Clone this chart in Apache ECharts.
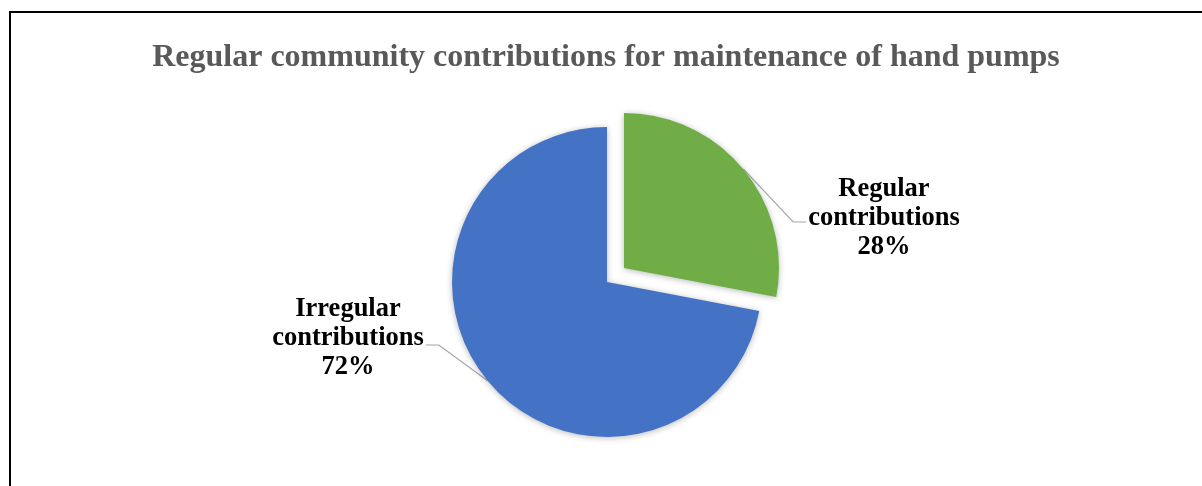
<!DOCTYPE html>
<html>
<head>
<meta charset="utf-8">
<script src="https://cdn.jsdelivr.net/npm/echarts@6/dist/echarts.min.js"></script>
<style>
  html, body { margin: 0; padding: 0; background: #ffffff; }
  #chart { width: 1202px; height: 486px; }
</style>
</head>
<body>
<div id="chart"></div>
<script>
// Share of communities by contribution pattern (%)
const categories = ['Regular\ncontributions', 'Irregular\ncontributions'];
const shares = [28, 72];
const sliceColors = ['#70AD47', '#4472C4'];
const titleText = 'Regular community contributions for maintenance of hand pumps';

// The "Regular" slice is pulled out of the pie
const explodedIndex = 0;

// Centre of each label block and the height of its leader line's horizontal run
const labelSpots = [
  { x: 884, y: 218, lineY: 222, side: 'right' },
  { x: 348, y: 338, lineY: 345, side: 'left' }
];

const pieCenter = [607, 282];
const pieRadius = 155;
const explodeShift = [17, -14];

const serifFont = '"Liberation Serif", "Times New Roman", serif';

function sliceData(visibleWhen) {
  return categories.map((name, i) => {
    const visible = visibleWhen(i);
    return {
      name: name,
      value: shares[i],
      itemStyle: visible
        ? { color: sliceColors[i] }
        : { color: 'rgba(0,0,0,0)', shadowBlur: 0, shadowColor: 'rgba(0,0,0,0)' },
      label: { show: visible },
      labelLine: { show: visible }
    };
  });
}

function makePie(center, data) {
  return {
    type: 'pie',
    center: center,
    radius: pieRadius,
    startAngle: 90,
    clockwise: true,
    silent: true,
    label: {
      position: 'outside',
      formatter: '{b}\n{d}%',
      fontFamily: serifFont,
      fontWeight: 'bold',
      fontSize: 26.5,
      lineHeight: 29,
      color: '#000000'
    },
    labelLine: {
      lineStyle: { color: '#A6A6A6', width: 1.2 }
    },
    labelLayout: function (params) {
      const spot = labelSpots[params.dataIndex];
      const w = params.labelRect.width;
      const start = params.labelLinePoints ? params.labelLinePoints[0] : null;
      let end, elbow;
      if (spot.side === 'right') {
        end = [spot.x - w / 2 - 2, spot.lineY];
        elbow = [end[0] - 13, spot.lineY];
      } else {
        end = [spot.x + w / 2 + 2, spot.lineY];
        elbow = [end[0] + 13, spot.lineY];
      }
      const out = { x: spot.x, y: spot.y, align: 'center', verticalAlign: 'middle' };
      if (start) out.labelLinePoints = [start, elbow, end];
      return out;
    },
    itemStyle: {
      shadowBlur: 6,
      shadowColor: 'rgba(0,0,0,0.28)',
      shadowOffsetX: 0,
      shadowOffsetY: 1
    },
    emphasis: { disabled: true },
    data: data
  };
}

const chart = echarts.init(document.getElementById('chart'), null, { renderer: 'canvas' });

chart.setOption({
  backgroundColor: '#ffffff',
  animation: false,
  title: {
    text: titleText,
    left: 601,
    textAlign: 'center',
    top: 37,
    textStyle: {
      fontFamily: serifFont,
      fontWeight: 'bold',
      fontSize: 32,
      color: '#595959'
    }
  },
  graphic: [
    { type: 'line', shape: { x1: 10, y1: 11, x2: 10, y2: 486 }, style: { stroke: '#000', lineWidth: 2 } },
    { type: 'line', shape: { x1: 9, y1: 12, x2: 1202, y2: 12 }, style: { stroke: '#000', lineWidth: 2 } }
  ],
  series: [
    // slices that stay in place
    makePie(pieCenter, sliceData(i => i !== explodedIndex)),
    // the pulled-out slice
    makePie([pieCenter[0] + explodeShift[0], pieCenter[1] + explodeShift[1]],
            sliceData(i => i === explodedIndex))
  ]
});
</script>
</body>
</html>
